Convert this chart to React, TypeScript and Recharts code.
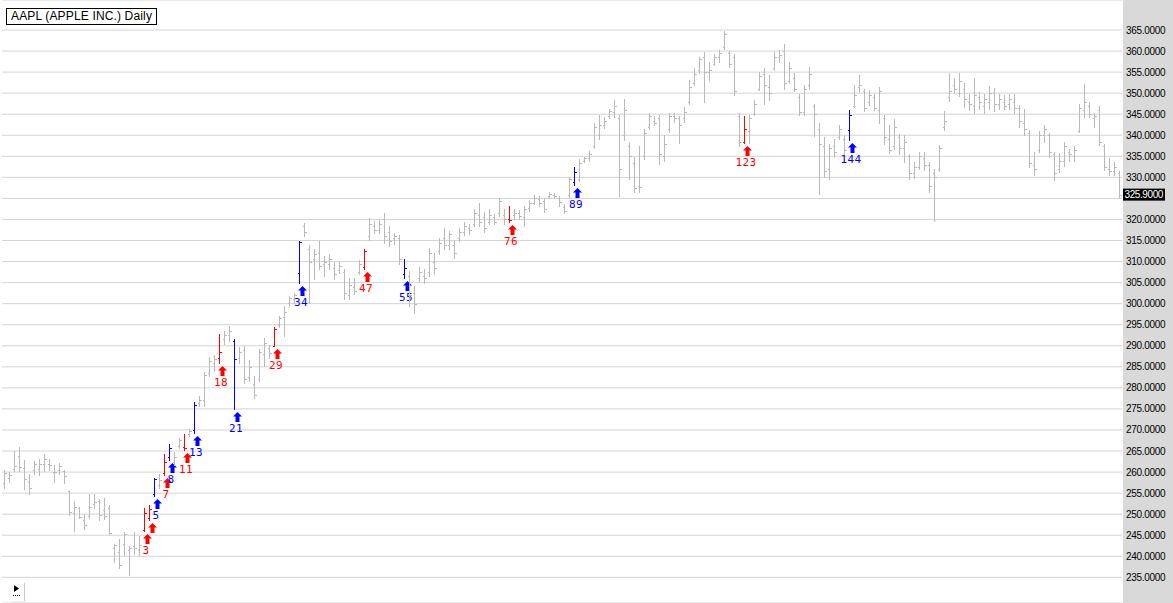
import React from 'react';
import { ComposedChart, Bar, XAxis, YAxis, CartesianGrid, ReferenceLine } from 'recharts';

// daily OHLC, one entry per trading day
const opens = [
  257.5, 258.5, 260.8, 263.8, 260.9, 257.6, 260.5, 260.8, 262.0, 261.8, 260.0, 260.5, 260.2, 255.4, 250.2, 251.4,
  248.5, 249.5, 252.3, 253.1, 251.0, 251.5, 242.0, 241.0, 243.0, 241.5, 242.5, 241.5, 246.3, 249.0, 254.9, 257.0,
  259.8, 263.5, 262.5, 266.2, 266.0, 269.0, 270.0, 276.5, 277.0, 283.5, 286.0, 287.0, 291.5, 292.5, 291.2, 287.0,
  289.0, 282.5, 281.0, 282.0, 288.0, 289.5, 290.0, 295.0, 296.8, 300.2, 301.0, 307.3, 318.5, 313.0, 310.5, 312.0,
  309.5, 309.5, 308.5, 308.0, 307.5, 302.0, 304.0, 307.5, 308.8, 316.0, 318.5, 317.5, 320.0, 317.0, 315.5, 315.5,
  307.0, 306.5, 302.5, 306.0, 306.5, 307.5, 310.0, 312.5, 315.5, 314.0, 314.0, 315.5, 317.0, 318.0, 319.0, 321.0,
  320.5, 319.5, 320.5, 321.5, 321.0, 320.0, 321.0, 321.5, 320.5, 322.8, 324.0, 324.8, 324.5, 325.5, 325.8, 325.0,
  323.0, 325.8, 329.0, 329.5, 334.0, 334.5, 337.5, 340.0, 342.5, 344.5, 345.5, 344.0, 340.0, 337.5, 333.5, 328.0,
  335.0, 342.0, 343.5, 344.0, 335.0, 341.5, 344.5, 344.0, 344.0, 348.0, 352.5, 355.5, 358.5, 355.0, 357.0, 358.5,
  361.0, 359.5, 358.5, 344.5, 338.5, 341.0, 345.0, 351.0, 354.5, 351.5, 356.0, 358.5, 360.0, 353.0, 353.5, 349.0,
  345.5, 352.0, 347.0, 341.5, 337.5, 332.0, 337.5, 339.5, 339.0, 341.2, 347.0, 351.5, 350.5, 348.0, 349.0, 346.0,
  344.0, 339.0, 337.5, 339.5, 337.0, 335.0, 331.0, 332.5, 334.5, 333.0, 331.0, 332.0, 342.0, 349.0, 352.0, 350.0,
  351.0, 348.0, 347.0, 349.0, 347.0, 348.0, 350.0, 347.5, 348.0, 347.5, 348.0, 346.5, 343.0, 340.5, 333.0, 336.5,
  340.0, 340.0, 335.5, 332.0, 334.0, 336.0, 335.0, 341.0, 346.0, 347.0, 344.0, 346.0, 337.5, 332.0, 331.5, 331.0,
];
const highs = [
  260.4, 260.1, 265.0, 266.0, 262.8, 259.6, 262.6, 263.2, 264.4, 263.2, 261.6, 262.2, 260.6, 255.6, 253.2, 251.7,
  250.0, 254.7, 254.7, 253.5, 253.9, 252.1, 242.9, 244.0, 245.8, 242.4, 245.8, 244.8, 251.4, 252.2, 258.7, 259.6,
  264.3, 266.6, 264.7, 268.1, 269.0, 270.2, 276.7, 278.0, 283.8, 287.3, 287.8, 292.9, 293.5, 294.7, 291.7, 289.8,
  289.9, 286.7, 282.8, 289.3, 291.9, 290.3, 294.5, 297.1, 299.4, 301.8, 302.5, 314.9, 319.1, 314.0, 312.9, 314.9,
  311.3, 311.7, 309.9, 309.9, 308.2, 306.0, 306.0, 310.3, 312.9, 320.3, 319.7, 319.9, 321.5, 318.5, 316.9, 316.3,
  310.5, 307.8, 304.2, 308.6, 308.2, 313.3, 312.0, 315.5, 317.9, 317.3, 314.9, 317.9, 319.3, 318.9, 322.5, 324.0,
  321.7, 322.5, 321.3, 325.2, 322.5, 323.3, 322.6, 322.3, 323.3, 324.7, 325.8, 325.6, 325.2, 326.6, 326.4, 325.6,
  323.7, 330.1, 332.5, 334.3, 334.8, 336.2, 343.0, 344.8, 344.4, 346.3, 348.3, 344.8, 348.6, 338.4, 334.8, 337.4,
  341.4, 345.4, 344.6, 344.8, 340.0, 345.4, 345.2, 344.6, 346.7, 353.1, 355.9, 358.6, 359.8, 357.5, 359.2, 360.2,
  364.8, 360.0, 359.4, 345.2, 344.5, 344.9, 348.3, 355.1, 355.9, 354.3, 359.8, 360.2, 361.6, 357.5, 354.7, 349.7,
  351.9, 356.3, 347.5, 342.8, 339.6, 338.0, 339.2, 342.4, 340.0, 346.0, 351.9, 354.3, 351.1, 350.7, 349.9, 351.5,
  344.8, 342.4, 343.8, 340.4, 340.1, 335.6, 333.6, 336.0, 336.0, 333.6, 332.0, 337.8, 345.7, 354.9, 353.5, 354.9,
  352.3, 349.9, 353.5, 350.3, 349.9, 351.7, 351.3, 349.9, 349.5, 349.7, 349.9, 347.1, 346.3, 341.2, 336.0, 341.0,
  342.4, 340.6, 336.0, 335.9, 338.4, 336.8, 337.4, 347.5, 352.1, 347.8, 345.4, 347.0, 338.0, 334.6, 333.6, 331.4,
];
const lows = [
  256.3, 257.7, 260.2, 260.2, 256.0, 254.8, 259.6, 259.3, 260.2, 260.5, 257.6, 259.6, 257.5, 249.8, 245.9, 249.0,
  246.5, 249.0, 251.5, 248.6, 248.9, 245.3, 238.6, 237.2, 240.2, 235.5, 240.5, 240.2, 246.1, 248.5, 254.2, 256.2,
  259.2, 262.9, 261.7, 265.7, 265.3, 268.5, 269.3, 275.6, 275.6, 282.8, 284.0, 285.9, 290.5, 291.1, 275.0, 285.9,
  281.2, 281.6, 277.6, 281.7, 285.2, 287.1, 289.9, 294.5, 292.3, 299.8, 300.1, 305.0, 316.1, 300.1, 305.8, 308.2,
  306.6, 308.3, 305.8, 307.4, 301.0, 301.0, 302.2, 307.0, 308.3, 315.1, 316.9, 316.9, 314.5, 313.7, 314.1, 309.4,
  306.2, 299.4, 297.8, 305.4, 305.0, 306.6, 307.1, 311.7, 312.9, 312.9, 310.9, 314.9, 316.3, 316.5, 318.5, 318.5,
  317.1, 318.9, 318.9, 320.9, 319.0, 319.3, 320.1, 320.2, 318.5, 322.1, 323.7, 323.3, 321.8, 325.2, 325.2, 323.3,
  321.5, 325.3, 328.2, 329.1, 333.6, 333.8, 337.0, 339.2, 341.7, 344.0, 344.4, 325.5, 338.8, 329.7, 326.5, 326.5,
  334.4, 341.6, 342.4, 333.2, 333.8, 340.8, 343.2, 338.2, 343.2, 347.4, 351.9, 354.7, 347.9, 353.1, 356.7, 357.5,
  360.5, 356.3, 349.5, 337.5, 338.2, 338.2, 344.8, 350.7, 347.5, 348.3, 355.5, 357.5, 351.1, 352.3, 350.5, 344.8,
  344.8, 351.1, 339.8, 326.1, 330.1, 329.7, 334.8, 339.0, 335.6, 338.8, 346.7, 350.3, 345.7, 347.1, 345.9, 342.8,
  338.0, 335.8, 336.8, 335.6, 333.6, 329.7, 329.8, 332.0, 331.7, 326.5, 319.7, 331.4, 341.3, 348.1, 350.3, 349.4,
  346.7, 345.9, 345.4, 346.3, 345.4, 346.3, 345.7, 346.2, 346.3, 346.3, 345.2, 342.0, 340.0, 332.4, 330.5, 336.0,
  338.4, 334.8, 329.3, 331.3, 332.8, 334.0, 334.0, 340.8, 344.4, 344.4, 342.0, 337.6, 331.7, 330.5, 330.5, 325.3,
];
const closes = [
  259.8, 259.4, 261.5, 261.2, 258.4, 256.1, 262.0, 261.8, 263.0, 261.7, 260.0, 261.4, 259.0, 250.6, 251.6, 249.3,
  247.4, 251.8, 252.9, 249.8, 249.5, 245.6, 242.7, 237.9, 245.4, 242.0, 242.0, 242.6, 250.2, 251.2, 258.3, 258.0,
  262.5, 265.7, 263.5, 267.5, 265.8, 269.7, 276.0, 277.0, 283.0, 286.5, 286.8, 288.6, 292.5, 293.5, 286.9, 288.6,
  282.0, 285.0, 278.2, 288.5, 290.6, 288.2, 294.0, 296.6, 298.0, 301.3, 302.0, 314.7, 317.0, 310.0, 311.8, 309.0,
  310.0, 310.5, 307.0, 309.0, 302.5, 304.5, 303.0, 309.5, 312.5, 319.0, 317.5, 319.0, 316.0, 315.0, 316.0, 310.5,
  308.5, 302.0, 300.0, 307.5, 306.0, 312.0, 308.5, 314.5, 314.0, 316.5, 312.0, 317.0, 318.5, 317.5, 321.5, 319.5,
  318.0, 321.0, 319.5, 324.5, 320.0, 319.8, 321.5, 320.8, 322.5, 324.0, 325.2, 324.0, 322.5, 326.0, 325.6, 324.2,
  322.0, 329.5, 331.3, 333.5, 334.5, 335.5, 342.0, 342.5, 343.5, 345.8, 347.0, 332.0, 346.0, 335.0, 327.5, 327.8,
  340.5, 344.5, 343.0, 335.5, 338.0, 344.5, 344.0, 342.5, 345.5, 351.5, 354.5, 358.0, 355.0, 355.5, 358.5, 359.5,
  364.0, 357.0, 350.5, 338.5, 341.5, 344.0, 347.5, 354.0, 352.0, 350.0, 358.5, 359.0, 352.5, 356.0, 351.0, 345.5,
  351.0, 354.5, 345.0, 338.0, 331.5, 337.0, 336.0, 341.5, 336.5, 344.8, 349.5, 352.0, 346.5, 349.5, 346.5, 350.5,
  339.5, 336.5, 342.0, 337.0, 338.5, 331.0, 332.5, 335.0, 333.0, 328.0, 330.0, 337.0, 343.5, 350.5, 351.0, 353.0,
  348.5, 347.5, 349.5, 348.0, 348.5, 350.0, 347.5, 348.5, 347.0, 348.5, 346.5, 343.5, 341.5, 333.5, 332.0, 340.0,
  341.5, 336.0, 331.0, 334.0, 337.5, 335.5, 336.5, 346.5, 348.0, 345.0, 344.5, 338.5, 332.5, 331.5, 332.5, 325.9,
];

// bars counted from the swing low
const startBar = 25;
const lucasCounts = [3, 4, 7, 11, 18, 29, 47, 76, 123];
const fibCounts = [5, 8, 13, 21, 34, 55, 89, 144];
const unlabeledCounts = [4];

const priceTicks = [235, 240, 245, 250, 255, 260, 265, 270, 275, 280, 285, 290, 295, 300, 305, 310, 315, 320, 325, 330, 335, 340, 345, 350, 355, 360, 365];
const lastPrice = 325.9;
const title = 'AAPL (APPLE INC.) Daily';

const GRAY = '#b9b9b9';
const RED = '#ff0000';
const BLUE = '#0000ff';

const data = highs.map((h, i) => {
  const n = i - startBar;
  let mark: string | null = null;
  if (lucasCounts.includes(n)) mark = RED;
  if (fibCounts.includes(n)) mark = BLUE;
  return {
    i,
    range: [lows[i], h],
    open: opens[i],
    high: h,
    low: lows[i],
    close: closes[i],
    mark,
    count: n,
    showLabel: mark != null && !unlabeledCounts.includes(n),
  };
});

const OhlcBar = (props: any) => {
  const { x, y, width, height, payload } = props;
  if (x == null || y == null) return null;
  const top = Math.min(y, y + height);
  const bot = Math.max(y, y + height);
  const span = payload.high - payload.low || 1;
  const toY = (v: number) => Math.round(top + ((payload.high - v) / span) * (bot - top)) + 0.5;
  const cx = Math.floor(x + width / 2) + 0.5;
  const color = payload.mark || GRAY;
  const yo = toY(payload.open);
  const yc = toY(payload.close);
  const ax = cx + 3;
  const at = Math.round(bot) + 3;
  return (
    <g>
      <line x1={cx} x2={cx} y1={Math.round(top)} y2={Math.round(bot) + 1} stroke={color} strokeWidth={1} shapeRendering="crispEdges" />
      <line x1={cx - 2} x2={cx} y1={yo} y2={yo} stroke={color} strokeWidth={1} shapeRendering="crispEdges" />
      <line x1={cx} x2={cx + 2} y1={yc} y2={yc} stroke={color} strokeWidth={1} shapeRendering="crispEdges" />
      {payload.mark && (
        <polygon
          points={`${ax},${at} ${ax + 4.5},${at + 4.5} ${ax + 2},${at + 4.5} ${ax + 2},${at + 10} ${ax - 2},${at + 10} ${ax - 2},${at + 4.5} ${ax - 4.5},${at + 4.5}`}
          fill={payload.mark}
        />
      )}
      {payload.showLabel && (
        <text x={cx + 1.5} y={Math.round(bot) + 22.5} textAnchor="middle" fontFamily="DejaVu Sans Mono" fontSize={11} letterSpacing={0.4} fill={payload.mark}>
          {payload.count}
        </text>
      )}
    </g>
  );
};

const PriceTick = (props: any) => {
  const { x, y, payload } = props;
  if (payload.value === 325) return null;
  return (
    <text x={x} y={y} dy={3.5} textAnchor="start" fontFamily="Liberation Sans, Arial, sans-serif" fontSize={10} letterSpacing={-0.3} fill="#000">
      {payload.value.toFixed(4)}
    </text>
  );
};

const LastPriceLabel = (props: any) => {
  const { viewBox } = props;
  const bx = viewBox.x + viewBox.width + 1;
  const by = viewBox.y;
  return (
    <g>
      <rect x={bx} y={by - 6} width={42} height={12} fill="#000" />
      <text x={bx + 1.5} y={by} dy={3.5} fontFamily="Liberation Sans, Arial, sans-serif" fontSize={10} letterSpacing={-0.4} fill="#fff">
        {lastPrice.toFixed(4)}
      </text>
    </g>
  );
};

export default function App() {
  return (
    <div
      style={{
        position: 'absolute',
        left: 0,
        top: 0,
        width: 1173,
        height: 603,
        background: 'linear-gradient(to right, #ffffff 1123px, #d9d9d9 1123px)',
        overflow: 'hidden',
      }}
    >
      <ComposedChart width={1173} height={603} data={data} margin={{ top: 0, right: 0, left: 2, bottom: 0 }}>
        <CartesianGrid vertical={false} stroke="#d4d4d4" />
        <XAxis dataKey="i" type="category" hide />
        <YAxis
          orientation="right"
          width={51}
          type="number"
          domain={[228.9, 372.13]}
          allowDataOverflow
          ticks={priceTicks}
          interval={0}
          axisLine={false}
          tickLine={false}
          tickSize={0}
          tickMargin={4}
          tick={<PriceTick />}
        />
        <ReferenceLine y={lastPrice} stroke="none" ifOverflow="visible" label={<LastPriceLabel />} />
        <Bar dataKey="range" shape={<OhlcBar />} isAnimationActive={false} />
      </ComposedChart>
      <div
        style={{
          position: 'absolute',
          left: 6,
          top: 8,
          border: '1px solid #000',
          background: '#fff',
          padding: '0 4px',
          height: 15,
          lineHeight: '15px',
          fontFamily: 'Liberation Sans, Arial, sans-serif',
          fontSize: 12,
          letterSpacing: 0.15,
          color: '#000',
          whiteSpace: 'nowrap',
        }}
      >
        {title}
      </div>
      <svg style={{ position: 'absolute', left: 10, top: 580 }} width={16} height={23}>
        <polygon points="4,5 9,8.5 4,12" fill="#000" />
        <line x1={3} x2={10} y1={15.5} y2={15.5} stroke="#000" strokeDasharray="1 1" />
        <line x1={14.5} x2={14.5} y1={3} y2={21} stroke="#c8c8c8" />
        <line x1={1} x2={15} y1={21.5} y2={21.5} stroke="#eeeeee" />
      </svg>
    </div>
  );
}
